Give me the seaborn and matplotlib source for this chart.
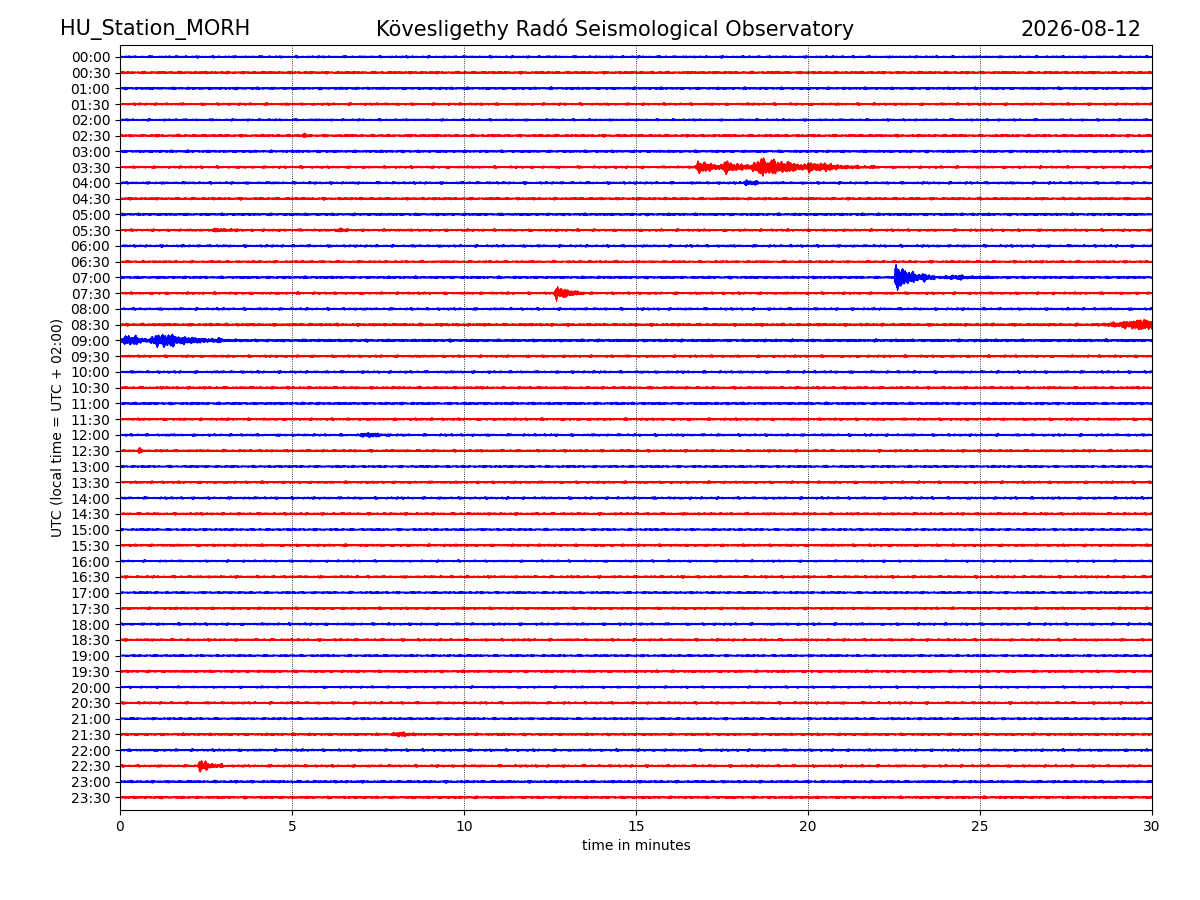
import numpy as np
import matplotlib
matplotlib.use("Agg")
import matplotlib.pyplot as plt
import seaborn as sns

# trace rows (one per half hour), top to bottom
trace_labels = [
    "00:00", "00:30", "01:00", "01:30", "02:00", "02:30", "03:00", "03:30",
    "04:00", "04:30", "05:00", "05:30", "06:00", "06:30", "07:00", "07:30",
    "08:00", "08:30", "09:00", "09:30", "10:00", "10:30", "11:00", "11:30",
    "12:00", "12:30", "13:00", "13:30", "14:00", "14:30", "15:00", "15:30",
    "16:00", "16:30", "17:00", "17:30", "18:00", "18:30", "19:00", "19:30",
    "20:00", "20:30", "21:00", "21:30", "22:00", "22:30", "23:00", "23:30",
]
trace_colors = ["blue", "red"] * 24

# background noise half-width per trace (in trace spacings)
noise_level = [
    0.09, 0.10, 0.10, 0.10, 0.09, 0.10, 0.10, 0.10,
    0.10, 0.10, 0.10, 0.10, 0.10, 0.09, 0.10, 0.10,
    0.10, 0.11, 0.11, 0.10, 0.10, 0.10, 0.10, 0.10,
    0.10, 0.10, 0.09, 0.10, 0.10, 0.10, 0.09, 0.10,
    0.09, 0.10, 0.09, 0.10, 0.10, 0.10, 0.09, 0.10,
    0.09, 0.10, 0.09, 0.10, 0.10, 0.10, 0.10, 0.10,
]

# events: row, start, peak, end (minutes), peak amplitude
event_rows  = [7,    7,    7,    7,    8,    5,    11,   11,   14,    14,   15,   17,   18,   18,   18,   24,   25,   43,   45]
event_start = [16.7, 17.4, 18.3, 19.8, 18.1, 5.3,  2.5,  6.3,  22.5,  23.9, 12.6, 28.5, 0.0,  0.8,  2.6,  6.9,  0.5,  7.9,  2.25]
event_peak  = [16.8, 17.7, 18.7, 20.3, 18.2, 5.35, 3.0,  6.4,  22.52, 24.2, 12.7, 30.0, 0.2,  1.3,  2.75, 7.3,  0.55, 8.2,  2.3]
event_end   = [18.0, 18.6, 20.6, 22.0, 18.6, 5.5,  3.5,  6.6,  23.6,  25.3, 13.4, 30.0, 1.0,  2.6,  3.3,  7.8,  0.7,  8.5,  2.9]
event_amp   = [0.38, 0.30, 0.65, 0.16, 0.22, 0.12, 0.08, 0.14, 0.90,  0.13, 0.48, 0.38, 0.38, 0.50, 0.12, 0.13, 0.12, 0.16, 0.42]

n_samples = 7200
t = np.linspace(0, 30, n_samples)
idx = np.arange(n_samples)

sns.set_style("ticks", {"axes.edgecolor": "black", "xtick.color": "black",
                        "ytick.color": "black", "text.color": "black",
                        "axes.labelcolor": "black"})
plt.rcParams["font.family"] = ["DejaVu Sans"]

fig, ax = plt.subplots(figsize=(12, 9), dpi=100)
fig.subplots_adjust(left=0.1, right=0.96, top=0.95, bottom=0.1)

for row, (label, color) in enumerate(zip(trace_labels, trace_colors)):
    # texture carrier: fast wiggle with irregular amplitude
    ph = row * 1.618
    wiggle = np.sin(idx * 2.13 + ph) * 0.6 + np.sin(idx * 0.93 + 2 * ph) * 0.4
    spiky = 0.6 + 0.4 * np.abs(np.sin(idx * 0.0371 + ph) * np.sin(idx * 0.0213 + 3 * ph)
                               + 0.5 * np.sin(idx * 0.1133 + 5 * ph))
    carrier = wiggle * spiky
    env = np.full(n_samples, noise_level[row])
    for r, s, p, e, a in zip(event_rows, event_start, event_peak, event_end, event_amp):
        if r != row:
            continue
        rise = np.clip((t - s) / max(p - s, 1e-3), 0, 1)
        fall = np.where(t > p, np.exp(-2.0 * (t - p) / max(e - p, 1e-3)), 1.0)
        env = env + a * rise * fall * (t >= s) * (t <= e + 0.1)
    y = row - env * carrier
    sns.lineplot(x=t, y=y, ax=ax, color=color, linewidth=0.5,
                 estimator=None, sort=False)

ax.set_xlim(0, 30)
ax.set_ylim(47.8, -0.75)
ax.set_xticks([0, 5, 10, 15, 20, 25, 30])
ax.set_yticks(range(len(trace_labels)))
ax.set_yticklabels(trace_labels)
ax.tick_params(labelsize=10)
for xv in [5, 10, 15, 20, 25]:
    ax.axvline(xv, color="black", linestyle=":", linewidth=0.6)
ax.set_xlabel("time in minutes", fontsize=10)
ax.set_ylabel("UTC (local time = UTC + 02:00)", fontsize=10)

fig.text(0.05, 0.967, "HU_Station_MORH", fontsize=15, ha="left", va="center")
fig.text(0.5125, 0.967, "Kövesligethy Radó Seismological Observatory",
         fontsize=15, ha="center", va="center")
fig.text(0.951, 0.967, "2026-08-12", fontsize=15, ha="right", va="center")

fig.savefig("out.png", dpi=100)
